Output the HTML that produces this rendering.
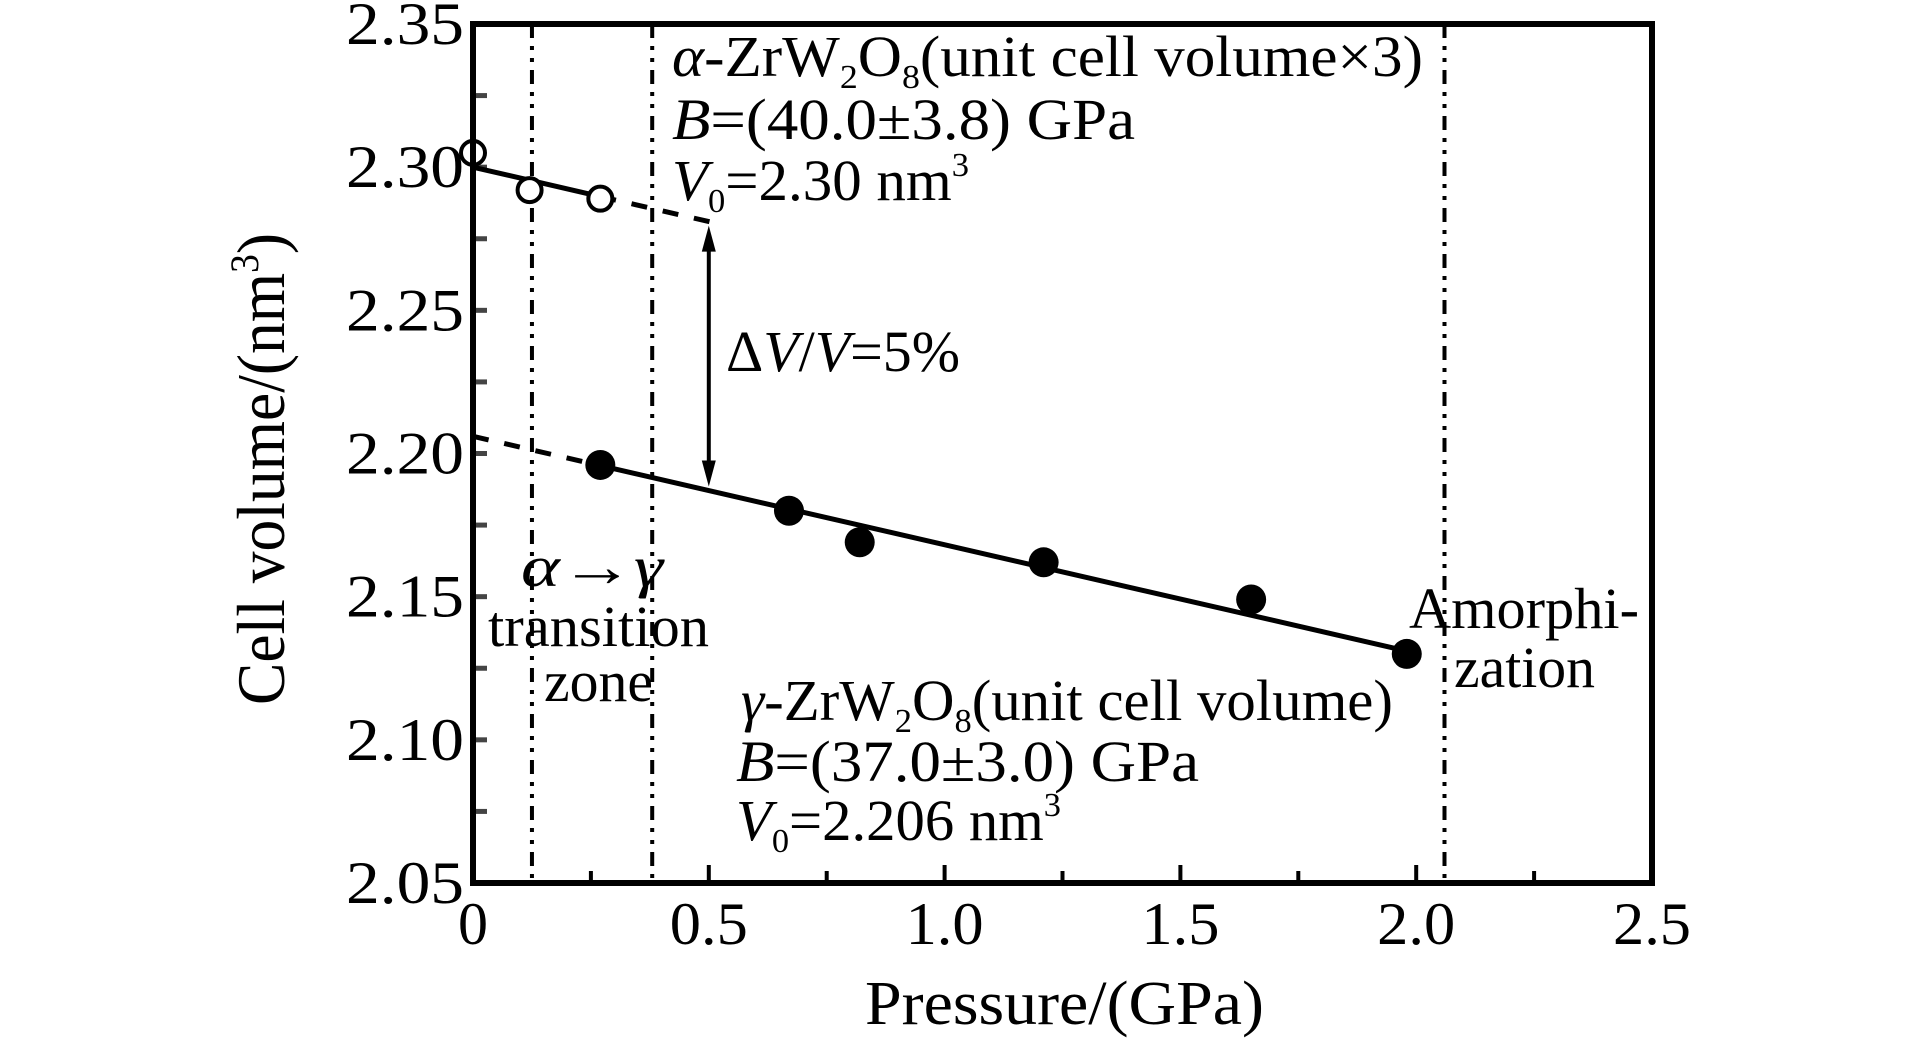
<!DOCTYPE html>
<html><head><meta charset="utf-8"><style>
html,body{margin:0;padding:0;background:#fff;}
svg{display:block;}
text{font-family:"Liberation Serif",serif;fill:#000;}
</style></head><body>
<svg id="chart" width="1923" height="1039" viewBox="0 0 1923 1039" xmlns="http://www.w3.org/2000/svg">
<g id="bg"></g>
<g id="annotations">
  <text x="672" y="76" font-size="58" textLength="751" lengthAdjust="spacingAndGlyphs"><tspan font-style="italic">α</tspan>-ZrW<tspan font-size="34" dy="12">2</tspan><tspan dy="-12">O</tspan><tspan font-size="34" dy="12">8</tspan><tspan dy="-12">(unit cell volume×3)</tspan></text>
  <text x="672" y="139" font-size="58" textLength="463" lengthAdjust="spacingAndGlyphs"><tspan font-style="italic">B</tspan>=(40.0±3.8) GPa</text>
  <text x="672" y="200" font-size="58" textLength="297" lengthAdjust="spacingAndGlyphs"><tspan font-style="italic">V</tspan><tspan font-size="34" dy="12">0</tspan><tspan dy="-12">=2.30 nm</tspan><tspan font-size="34" dy="-24">3</tspan></text>
  <text x="726" y="371" font-size="58" textLength="234" lengthAdjust="spacingAndGlyphs">Δ<tspan font-style="italic">V</tspan>/<tspan font-style="italic">V</tspan>=5%</text>
  <text x="521" y="586" font-size="58" textLength="142" lengthAdjust="spacingAndGlyphs"><tspan font-style="italic">α</tspan>→<tspan font-style="italic">γ</tspan></text>
  <text x="488" y="646" font-size="58" textLength="221" lengthAdjust="spacingAndGlyphs">transition</text>
  <text x="544" y="701" font-size="58" textLength="109" lengthAdjust="spacingAndGlyphs">zone</text>
  <text x="741" y="720" font-size="58" textLength="652" lengthAdjust="spacingAndGlyphs"><tspan font-style="italic">γ</tspan>-ZrW<tspan font-size="34" dy="12">2</tspan><tspan dy="-12">O</tspan><tspan font-size="34" dy="12">8</tspan><tspan dy="-12">(unit cell volume)</tspan></text>
  <text x="736" y="781" font-size="58" textLength="463" lengthAdjust="spacingAndGlyphs"><tspan font-style="italic">B</tspan>=(37.0±3.0) GPa</text>
  <text x="736" y="840" font-size="58" textLength="325" lengthAdjust="spacingAndGlyphs"><tspan font-style="italic">V</tspan><tspan font-size="34" dy="12">0</tspan><tspan dy="-12">=2.206 nm</tspan><tspan font-size="34" dy="-24">3</tspan></text>
  <text x="1409" y="628" font-size="58" textLength="230" lengthAdjust="spacingAndGlyphs">Amorphi-</text>
  <text x="1454" y="687" font-size="58" textLength="141" lengthAdjust="spacingAndGlyphs">zation</text>
  <text x="865" y="1024" font-size="62" textLength="399" lengthAdjust="spacingAndGlyphs">Pressure/(GPa)</text>
  <text transform="translate(284,469) rotate(-90)" x="0" y="0" text-anchor="middle" font-size="68" textLength="472" lengthAdjust="spacingAndGlyphs">Cell volume/(nm<tspan font-size="40" dy="-26">3</tspan><tspan dy="26">)</tspan></text>
</g>
</svg>
<script>
const xTicks = [0, 0.5, 1.0, 1.5, 2.0, 2.5];
const xTickLabels = ["0", "0.5", "1.0", "1.5", "2.0", "2.5"];
const yTicks = [2.05, 2.10, 2.15, 2.20, 2.25, 2.30, 2.35];
const yTickLabels = ["2.05", "2.10", "2.15", "2.20", "2.25", "2.30", "2.35"];
const alphaP = [0, 0.12, 0.27];
const alphaV = [2.305, 2.292, 2.289];
const gammaP = [0.27, 0.67, 0.82, 1.21, 1.65, 1.98];
const gammaV = [2.196, 2.180, 2.169, 2.162, 2.149, 2.130];
const alphaFit = [2.300, 2.281];   // V at P=0 and P=0.5
const gammaFit = [2.206, 2.131];   // V at P=0 and P=1.98
const boundaries = [0.125, 0.38, 2.06];

const L = 473, R = 1652, T = 24, B = 883;
const xS = p => L + (p - 0) / 2.5 * (R - L);
const yS = v => B - (v - 2.05) / 0.30 * (B - T);
const NS = "http://www.w3.org/2000/svg";
const bg = document.getElementById('bg');
function mk(tag, attrs, parent) {
  const e = document.createElementNS(NS, tag);
  for (const k in attrs) e.setAttribute(k, attrs[k]);
  (parent || bg).appendChild(e);
  return e;
}
boundaries.forEach((p, i) => {
  const e = mk('line', {x1: xS(p), x2: xS(p), y1: T, y2: B, stroke: '#000', 'stroke-width': 4, 'stroke-dasharray': '14 8 4 8 4 8'});
  
  
});
for (let v = 2.075; v < 2.35; v += 0.05) {
  const e = mk('line', {x1: L, x2: L + 14, y1: yS(v), y2: yS(v), stroke: '#444', 'stroke-width': 5});
  
  
}
yTicks.forEach((v, i) => {
  const e = mk('line', {x1: L, x2: L + 14, y1: yS(v), y2: yS(v), stroke: '#444', 'stroke-width': 5});
  
  
  const t = mk('text', {x: 464, y: yS(v) + 20, 'text-anchor': 'end', 'font-size': 60, textLength: 118, lengthAdjust: 'spacingAndGlyphs'});
  t.textContent = yTickLabels[i];
  
  
});
for (let p = 0.25; p < 2.5; p += 0.25) {
  const e = mk('line', {x1: xS(p), x2: xS(p), y1: B, y2: B - (Math.abs(p * 2 - Math.round(p * 2)) < 0.01 ? 18 : 12), stroke: '#000', 'stroke-width': 4});
  
  
}
xTicks.forEach((p, i) => {
  const t = mk('text', {x: xS(p), y: 944, 'text-anchor': 'middle', 'font-size': 60, textLength: i === 0 ? 30 : 78, lengthAdjust: 'spacingAndGlyphs'});
  t.textContent = xTickLabels[i];
  
  
});
const aSlope = (alphaFit[1] - alphaFit[0]) / 0.5;
let e = mk('line', {x1: xS(0), y1: yS(alphaFit[0]), x2: xS(alphaP[2]), y2: yS(alphaFit[0] + aSlope * alphaP[2]), stroke: '#000', 'stroke-width': 5});


e = mk('line', {x1: xS(alphaP[2]), y1: yS(alphaFit[0] + aSlope * alphaP[2]), x2: xS(0.52), y2: yS(alphaFit[0] + aSlope * 0.52), stroke: '#000', 'stroke-width': 5, 'stroke-dasharray': '16 16'});


const gSlope = (gammaFit[1] - gammaFit[0]) / 1.98;
e = mk('line', {x1: xS(0), y1: yS(gammaFit[0]), x2: xS(gammaP[0]), y2: yS(gammaFit[0] + gSlope * gammaP[0]), stroke: '#000', 'stroke-width': 5, 'stroke-dasharray': '16 16'});


e = mk('line', {x1: xS(gammaP[0]), y1: yS(gammaFit[0] + gSlope * gammaP[0]), x2: xS(1.98), y2: yS(gammaFit[1]), stroke: '#000', 'stroke-width': 5});


const ax = xS(0.5), ay1 = yS(alphaFit[0] + aSlope * 0.5) + 4, ay2 = yS(gammaFit[0] + gSlope * 0.5) - 4;
e = mk('line', {x1: ax, x2: ax, y1: ay1 + 20, y2: ay2 - 20, stroke: '#000', 'stroke-width': 4});


e = mk('polygon', {points: `${ax},${ay1} ${ax-7},${ay1+26} ${ax+7},${ay1+26}`, fill: '#000'});


e = mk('polygon', {points: `${ax},${ay2} ${ax-7},${ay2-26} ${ax+7},${ay2-26}`, fill: '#000'});


alphaP.forEach((p, i) => {
  const c = mk('circle', {cx: xS(p), cy: yS(alphaV[i]), r: 12, fill: '#fff', stroke: '#000', 'stroke-width': 4});
  
  
});
gammaP.forEach((p, i) => {
  const c = mk('circle', {cx: xS(p), cy: yS(gammaV[i]), r: 15, fill: '#000'});
  
  
});
e = mk('rect', {x: L, y: T, width: R - L, height: B - T, fill: 'none', stroke: '#000', 'stroke-width': 6});


</script>
</body></html>
